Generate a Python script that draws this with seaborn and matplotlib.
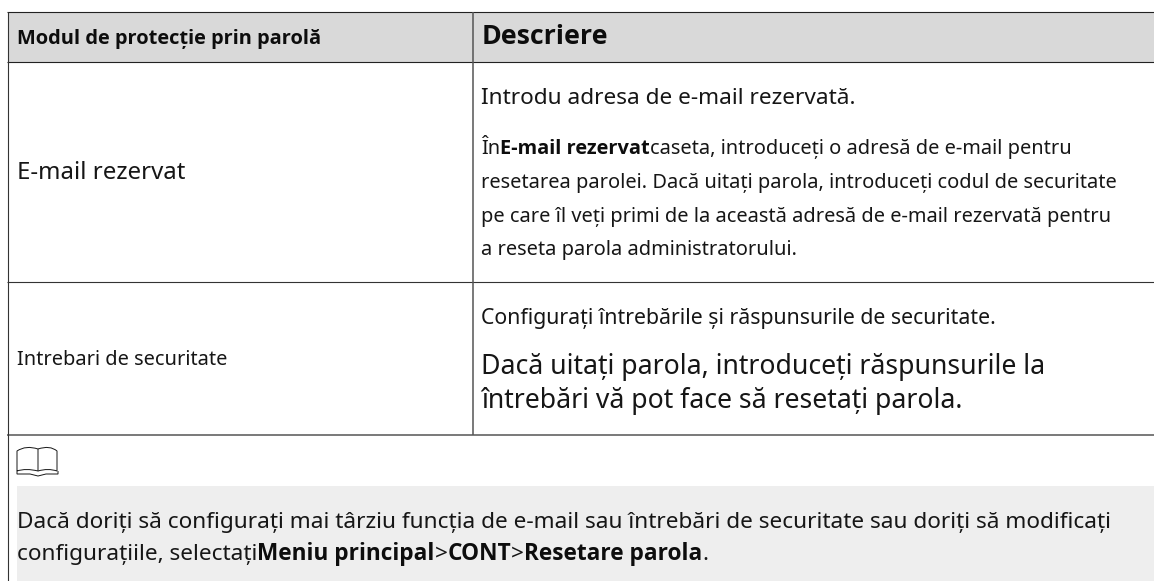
import matplotlib
matplotlib.use("Agg")
import matplotlib.pyplot as plt
from matplotlib.patches import Rectangle, PathPatch
from matplotlib.path import Path
import seaborn as sns

sns.set_theme(style="white")
plt.rcParams['font.family'] = ['Noto Sans', 'DejaVu Sans']

header_left = "Modul de protecție prin parolă"
header_right = "Descriere"
row_labels = ["E-mail rezervat", "Intrebari de securitate"]
row1_lines = [
    [("Introdu adresa de e-mail rezervată.", False)],
    [("În", False), ("E-mail rezervat", True), ("caseta, introduceți o adresă de e-mail pentru", False)],
    [("resetarea parolei. Dacă uitați parola, introduceți codul de securitate", False)],
    [("pe care îl veți primi de la această adresă de e-mail rezervată pentru", False)],
    [("a reseta parola administratorului.", False)],
]
row2_lines = [
    [("Configurați întrebările și răspunsurile de securitate.", False)],
    [("Dacă uitați parola, introduceți răspunsurile la", False)],
    [("întrebări vă pot face să resetați parola.", False)],
]
note_lines = [
    [("Dacă doriți să configurați mai târziu funcția de e-mail sau întrebări de securitate sau doriți să modificați", False)],
    [("configurațiile, selectați", False), ("Meniu principal", True), (">", False), ("CONT", True), (">", False), ("Resetare parola", True), (".", False)],
]

W, H = 1154, 581
fig = plt.figure(figsize=(W / 100, H / 100), dpi=100)
ax = fig.add_axes([0, 0, 1, 1])
ax.set_xlim(0, W)
ax.set_ylim(H, 0)
ax.axis("off")
sns.despine(ax=ax, left=True, bottom=True)

TXT = "#161616"


def px(s):
    return s * 72 / 100


def runs(x, y, parts, size):
    r = fig.canvas.get_renderer()
    for s, bold in parts:
        fam = ['Open Sans', 'DejaVu Sans'] if bold else ['Noto Sans', 'DejaVu Sans']
        t = ax.text(x, y, s, fontsize=px(size), color="#0d0d0d" if bold else TXT,
                    va="baseline", ha="left", family=fam,
                    fontweight="bold" if bold else "normal")
        x += t.get_window_extent(r).width


ax.add_patch(Rectangle((8, 12), W - 8, 50, fc="#d9d9d9", ec="none"))
ax.add_patch(Rectangle((17, 486), W - 17, 95, fc="#eeeeee", ec="none"))

ax.hlines(12, 7, W, color="#222222", lw=0.8)
ax.hlines(62.3, 7, W, color="#222222", lw=0.8)
ax.hlines(282, 7, W, color="#333333", lw=0.8)
ax.hlines(434.5, 7, W, color="#555555", lw=1.1)
ax.vlines(8, 12, H, color="#333333", lw=0.8)
ax.vlines(472.5, 12, 434.5, color="#555555", lw=1.1)

runs(17, 44, [(header_left, True)], 20)
runs(481.5, 43.5, [(header_right, True)], 26.7)
runs(17, 179, [(row_labels[0], False)], 24)
runs(17, 365, [(row_labels[1], False)], 20)

for yb, parts, size in zip([104, 154, 188, 222, 255], row1_lines, [22.6, 20, 20, 20, 20]):
    runs(481, yb, parts, size)
for yb, parts, size in zip([324, 374, 408], row2_lines, [21.3, 26.6, 26.6]):
    runs(481, yb, parts, size)
for yb, parts in zip([528, 560], note_lines):
    runs(17, yb, parts, 22.6)

# book icon
ax.add_patch(PathPatch(Path([(17, 471), (17, 451), (26, 445), (38, 449), (38, 471), (26, 468), (17, 471)],
                            [1, 2, 3, 3, 2, 3, 3]), fc="none", ec=TXT, lw=0.7))
ax.add_patch(PathPatch(Path([(38, 449), (50, 445), (57, 451), (57, 471), (48, 468), (38, 471)],
                            [1, 3, 3, 2, 3, 3]), fc="none", ec=TXT, lw=0.7))
ax.add_patch(PathPatch(Path([(17, 471), (17, 474), (30, 474), (38, 476), (46, 474), (58, 474), (58, 471)],
                            [1, 2, 2, 2, 2, 2, 2]), fc="none", ec=TXT, lw=0.7))

fig.savefig("out.png", dpi=100)
